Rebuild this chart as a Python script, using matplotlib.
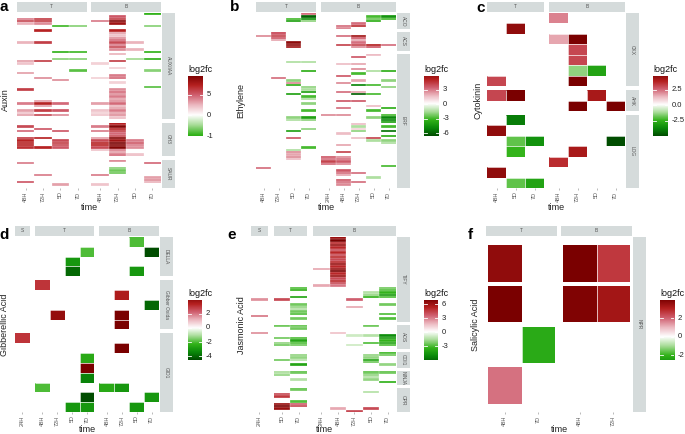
import numpy as np
import matplotlib
matplotlib.use('Agg')
import matplotlib.pyplot as plt
from matplotlib.colors import LinearSegmentedColormap, Normalize

plt.rcParams['font.family'] = ['Liberation Sans', 'DejaVu Sans']

W, H = 685, 434
N = None

# ---------------- panel a : Auxin ----------------
A_COL_GROUPS = ['T', 'B']
A_COL_LABELS = [['48H', '72H', '5D', '7D'], ['48H', '72H', '5D', '7D']]
A_ROW_GROUPS = ['AUX/IAA', 'GH3', 'SAUR']
A_AUX = [
    [N, N, N, N, N, N, N, -4.8],
    [N, N, N, N, N, 5, N, N],
    [4, 6, N, N, N, 6, N, N],
    [5.5, 6, N, N, 4, 9, N, N],
    [2.5, 3.5, N, N, N, 8, N, N],
    [N, N, -4.5, -3, N, N, N, -3],
    [N, N, N, N, N, N, N, N],
    [N, 7, N, N, N, 7, N, N],
    [N, N, N, N, N, 3, N, N],
    [N, N, N, N, N, 2, N, N],
    [N, N, N, N, N, 3.5, N, N],
    [N, N, N, N, N, 4.5, N, N],
    [2.5, 6, N, N, N, 5.5, 2.5, N],
    [N, N, N, N, N, 4, N, N],
    [N, N, N, N, N, 5.5, N, N],
    [N, N, N, N, N, 3.5, 2.5, N],
    [N, N, -4.8, -4.5, N, N, N, -4.8],
    [N, N, N, N, N, 2.5, N, N],
    [N, N, N, N, N, N, N, N],
    [N, N, -3, -3, N, N, -2.5, -5],
    [3, 6, N, N, N, 6, N, N],
    [2, N, N, N, 1.5, N, N, N],
    [N, N, N, N, N, N, N, N],
    [N, N, N, N, N, 1.5, N, N],
    [N, N, N, -4, N, N, N, -3],
    [3, N, N, N, N, N, N, N],
    [N, N, N, N, N, 4, N, N],
    [N, 3.5, N, N, 1.5, 4.5, N, N],
    [N, N, 3.5, N, N, N, N, N],
    [N, N, N, N, N, 1.5, N, N],
    [N, N, N, N, N, N, N, N],
    [N, N, N, N, N, N, N, -4],
    [6, N, N, N, N, 3.5, N, N],
    [N, N, N, N, N, 4.5, N, N],
    [N, N, N, N, N, 3.5, N, N],
    [N, N, N, N, N, 4, N, N],
    [N, N, N, N, N, 3, N, N],
    [N, 3, N, N, N, 3.5, N, N],
    [4, 7, 4.5, N, 3, 4.5, N, N],
    [N, 3, N, N, N, 2.5, N, N],
    [N, N, N, N, N, 3, N, N],
    [3, 6, 5, N, 2, 4, N, N],
    [2, N, N, N, 1.5, 3, N, N],
    [3, 5.5, 3.5, N, 2, 3.5, N, N],
    [N, N, N, N, N, 2, N, N],
]
A_GH3 = [
    [N, N, N, N, N, 7, N, N],
    [5.5, N, N, N, 4, 9, N, N],
    [N, 5, N, N, N, 7, N, N],
    [4.5, N, 5, N, 4, 6, N, N],
    [N, N, N, N, N, 4.5, N, N],
    [N, N, N, N, N, 5.5, N, N],
    [6, 7, N, N, 3, 9, N, N],
    [7, N, 5.5, N, 5.5, 8, 4, N],
    [7, N, 6, N, 7, 10, 5, N],
    [7, N, 5.5, N, 7, 9, 4, N],
    [6.5, 7, 5, N, 5.5, 9, 3.5, N],
    [N, N, N, N, 2, 4, N, N],
    [N, N, N, N, N, 3, N, N],
    [N, N, N, N, N, 4, 2, N],
]
A_SAUR = [
    [N, N, N, N, N, 3.5, N, N],
    [4, N, N, N, N, N, N, 4.5],
    [N, N, N, N, N, N, N, N],
    [N, N, N, N, N, -3, N, N],
    [N, N, N, N, N, -3.5, N, N],
    [N, N, N, N, N, -3.5, N, N],
    [N, 4, N, N, 4, N, N, N],
    [N, N, N, N, N, N, N, 3],
    [N, N, N, N, N, N, N, 3.5],
    [5, N, N, N, N, N, N, 2.5],
    [N, N, 3, N, 2, N, N, N],
    [N, N, N, N, N, N, N, N],
]

# ---------------- panel b : Ethylene ----------------
B_COL_GROUPS = ['T', 'B']
B_COL_LABELS = [['48H', '72H', '5D', '7D'], ['24H', '48H', '72H', '5D', '7D']]
B_ROW_GROUPS = ['ACO', 'ACS', 'ERF']
B_ACO = [
    [N, N, N, 3, N, N, N, N, N],
    [N, N, N, -6, N, N, N, -3, -4.5],
    [N, N, -3, -4.5, N, N, N, -2.5, -3],
    [N, N, -4, -2, N, N, N, -3.5, N],
    [N, N, N, N, N, N, 3, N, N],
    [N, N, N, N, N, 3, 4.5, N, N],
    [N, N, N, N, N, 2.5, N, N, N],
]
B_ACS = [
    [N, 3.5, N, N, N, N, N, N, N],
    [2.5, 4, N, N, N, 3, 5.5, N, N],
    [N, 3.5, N, N, N, N, 3.5, N, N],
    [N, 2, N, N, N, N, 2, N, N],
    [N, N, 6, N, N, N, 3, N, N],
    [N, N, 6, N, N, 4, 4, 5, 3],
    [N, N, 5.5, N, N, N, 2.5, 3.5, N],
    [N, N, N, N, N, N, N, N, N],
]
B_ERF = [
    [N, N, N, N, N, N, N, 1.5, N],
    [N, N, N, N, N, N, 3.5, N, N],
    [N, N, N, N, N, N, N, N, N],
    [N, N, -1.5, -1.5, N, N, N, N, N],
    [N, N, N, N, N, 1.5, 2, N, N],
    [N, N, N, N, N, N, N, N, N],
    [N, N, N, N, N, N, 2.5, N, N],
    [N, N, N, -3.5, N, N, N, -1.5, -3.5],
    [N, N, N, N, N, N, -3, N, N],
    [N, N, N, N, N, 3.5, N, N, N],
    [N, 3, N, N, N, N, N, N, N],
    [N, N, -2, N, N, N, 2, N, -2],
    [N, N, 2.5, N, N, 2.5, N, N, N],
    [N, N, -3.5, N, N, N, -5, -3, N],
    [N, N, N, -2, N, N, N, N, -2],
    [N, N, N, -1.5, N, N, N, N, N],
    [N, N, N, -4, N, 3, 2, N, N],
    [N, N, -4, N, N, N, -6, -3, N],
    [N, N, N, -3, N, N, N, N, N],
    [N, N, N, -1.5, N, N, N, N, N],
    [N, N, N, N, N, 3.5, 3.5, N, N],
    [N, N, N, -2, N, N, N, N, N],
    [N, N, N, N, N, N, N, 1.5, N],
    [N, N, N, N, N, 3, N, N, -3.5],
    [N, N, N, -3, N, N, N, -3, N],
    [N, N, N, N, N, N, N, N, N],
    [N, N, N, N, 2.5, 2.5, N, N, -3],
    [N, N, -2, -4, N, N, N, -2, -5],
    [N, N, -1.5, -2, N, N, N, N, -5],
    [N, N, N, N, N, N, N, N, -4],
    [N, N, N, N, N, N, 1.5, N, N],
    [N, N, N, N, N, N, -1.5, N, -3],
    [N, N, N, -2, N, N, 1, N, N],
    [N, N, -4, N, N, N, -2, N, -5.5],
    [N, N, N, N, N, 1.5, N, N, N],
    [N, N, N, N, N, N, N, N, -3.5],
    [N, N, 3.5, N, N, N, 1.5, 4, N],
    [N, N, N, N, N, N, N, -1.5, -2],
    [N, N, N, N, N, N, N, N, -1.5],
    [N, N, N, N, N, 2, N, N, N],
    [N, N, N, -3, N, N, N, N, N],
    [N, N, -1.5, N, N, N, N, N, N],
    [N, N, 2.5, N, N, 4, N, N, N],
    [N, N, 2, N, N, N, N, N, N],
    [N, N, 2.5, N, 3.5, 2.5, N, N, N],
    [N, N, 1.5, N, 3, 3, N, N, N],
    [N, N, N, N, 4, 3.5, N, N, N],
    [N, N, N, N, 3, 2.5, N, N, N],
    [N, N, N, N, N, N, N, N, -3],
    [3, N, N, N, N, N, N, N, N],
    [N, N, N, N, N, 3.5, N, N, N],
    [N, N, N, N, N, 3, 3, N, N],
    [N, N, N, N, N, 2, N, N, N],
    [N, N, N, N, N, N, N, -1.5, N],
    [N, N, N, N, N, 3.5, N, N, N],
    [N, N, N, N, N, 3, 3, N, N],
    [N, N, N, N, N, 2.5, N, N, N],
    [N, N, N, N, N, N, N, N, N],
]

# ---------------- panel c : Cytokinin ----------------
C_COL_GROUPS = ['T', 'B']
C_COL_LABELS = [['48H', '5D', '7D'], ['48H', '72H', '5D', '7D']]
C_ROW_GROUPS = ['CKX', 'AHK', 'LOG']
C_CKX = [
    [N, N, N, 2, N, N, N],
    [N, 4.5, N, N, N, N, N],
    [N, N, N, 1.5, 5, N, N],
    [N, N, N, N, 3, N, N],
    [N, N, N, N, 3, N, N],
    [N, N, N, N, -1.5, -3, N],
    [3, N, N, N, 5, N, N],
]
C_AHK = [
    [3, 5.5, N, N, N, 4, N],
    [N, N, N, N, 5, N, 5],
]
C_LOG = [
    [N, -4, N, N, N, N, N],
    [4.5, N, N, N, N, N, N],
    [N, -2, -3.5, N, N, N, -5],
    [N, -2.5, N, N, 4, N, N],
    [N, N, N, 3.5, N, N, N],
    [4.5, N, N, N, N, N, N],
    [N, -2, -3, N, N, N, N],
]

# ---------------- panel d : Gibberellic Acid ----------------
D_COL_GROUPS = ['S', 'T', 'B']
D_COL_LABELS = [['24H'], ['48H', '72H', '5D', '7D'], ['48H', '72H', '5D', '7D']]
D_ROW_GROUPS = ['DELLA', 'Gibber Oxida', 'GID1']
D_DELLA = [
    [N, N, N, N, N, N, N, -2, N],
    [N, N, N, N, -2, N, N, N, -4.5],
    [N, N, N, -3, N, N, N, N, N],
    [N, N, N, -4, N, N, N, -3, N],
]
D_GIBOX = [
    [N, 3, N, N, N, N, N, N, N],
    [N, N, N, N, N, N, 3.5, N, N],
    [N, N, N, N, N, N, N, N, -4],
    [N, N, 4, N, N, N, 4.5, N, N],
    [N, N, N, N, N, N, 4.5, N, N],
]
D_GID = [
    [3, N, N, N, N, N, N, N, N],
    [N, N, N, N, N, N, 4.5, N, N],
    [N, N, N, N, -2.5, N, N, N, N],
    [N, N, N, N, 4.5, N, N, N, N],
    [N, N, N, N, -3.5, N, N, N, N],
    [N, -2, N, N, N, -2.5, -3, N, N],
    [N, N, N, N, -5, N, N, N, -3],
    [N, N, N, -3, -3, N, N, -3, N],
]

# ---------------- panel e : Jasmonic Acid ----------------
E_COL_GROUPS = ['S', 'T', 'B']
E_COL_LABELS = [['24H'], ['5D', '7D'], ['24H', '48H', '72H', '5D', '7D']]
E_ROW_GROUPS = ['TIFY', 'AOS', 'COI1', 'NINJA', 'OPR']
E_TIFY = [
    [N, N, N, N, 6, N, N, N],
    [N, N, N, N, 7, N, N, N],
    [N, N, N, N, 5, N, N, N],
    [N, N, N, N, 6, N, N, N],
    [N, N, N, N, 5, N, N, N],
    [N, N, N, N, 4, N, N, N],
    [N, N, N, N, 5, N, N, N],
    [N, N, N, N, 4, N, N, N],
    [N, N, N, N, 5, N, N, N],
    [N, N, N, N, 4, N, N, N],
    [N, N, N, N, 5, N, N, N],
    [N, N, N, N, 6, N, N, N],
    [N, N, N, N, 5, N, N, N],
    [N, N, N, 2, 6, N, N, N],
    [N, N, N, N, 7, N, N, N],
    [N, N, N, N, 5, N, N, N],
    [N, N, N, N, 6, N, N, N],
    [N, N, N, N, 4, N, N, N],
    [N, N, N, N, 5, N, N, N],
    [N, N, N, N, 4, N, N, N],
    [N, N, N, 2, 3, N, N, N],
    [N, N, -3, N, N, N, N, -2.5],
    [N, N, -3.5, N, N, N, N, -3],
    [N, N, N, N, N, N, -1.5, -3.5],
    [N, N, N, N, N, N, -2, -4.5],
    [N, N, -4, N, N, N, -3.5, -3],
    [2.5, 4, N, N, N, 3.5, N, N],
    [N, N, N, N, N, N, N, N],
    [N, N, -2.5, N, N, N, N, -2.5],
    [N, N, -2, N, N, 2, N, N],
    [N, N, -1.5, N, N, N, N, N],
    [N, N, -2.5, N, N, N, N, N],
    [N, N, -3, N, N, N, N, -3],
    [3, N, N, N, N, N, N, N],
    [N, N, -2.5, N, N, N, N, -3],
    [N, N, N, N, N, N, N, N],
]
E_AOS = [
    [N, -2.5, -2.5, N, N, N, -2.5, N],
    [N, N, -2.5, N, N, N, N, N],
    [N, N, N, N, N, N, N, N],
    [2.5, N, N, N, 1.5, N, N, N],
    [N, N, N, N, N, -1, -1.5, -5],
    [N, -2.5, -3, N, N, N, N, -4.5],
    [N, N, -4, N, N, N, N, -3.5],
    [N, -2, -3, N, N, N, -3, -4],
    [N, -2.5, -2.5, N, N, -1, N, -3],
    [N, N, N, N, N, N, N, N],
]
E_COI = [
    [N, N, N, N, N, N, N, -3],
    [N, N, -2, N, N, N, -2, -2.5],
    [N, N, -2, N, N, N, -2, N],
    [N, -2.5, -1.5, N, N, N, -4, N],
    [N, N, N, N, N, N, -2.5, N],
    [N, N, -4, N, N, N, N, -2],
    [N, N, N, N, N, N, N, N],
]
E_NINJA = [
    [N, -1.5, -2.5, N, N, N, -2.5, -2.5],
    [N, -2, N, N, N, N, -2, N],
    [N, N, N, N, N, N, -1.5, N],
    [N, N, -1.5, N, N, N, -2, N],
    [N, N, N, N, N, N, N, -3.5],
    [N, N, N, N, N, N, N, N],
]
E_OPR = [
    [N, N, -2.5, N, N, N, N, N],
    [N, N, N, N, N, N, -1.5, N],
    [N, 4, N, N, N, N, N, N],
    [N, 4.5, N, N, N, N, N, N],
    [N, N, N, N, N, N, N, N],
    [N, N, -3, N, N, N, N, N],
    [N, 6, 3.5, N, N, N, N, N],
    [N, 7, 4, N, N, N, N, N],
    [N, 6, N, N, 2, N, 4, N],
    [N, N, N, N, N, 4, N, N],
]

# ---------------- panel f : Salicylic Acid ----------------
F_COL_GROUPS = ['T', 'B']
F_COL_LABELS = [['48H', '7D'], ['48H', '72H']]
F_ROW_GROUPS = ['NPR']
F_NPR = [
    [3.6, N, 4.0, 2.6],
    [4.0, N, 3.9, 3.3],
    [N, -2.2, N, N],
    [1.8, N, N, N],
]

CMAP = LinearSegmentedColormap.from_list('l2fc', [
    (0.0, '#004d00'), (0.125, '#0a8a0a'), (0.25, '#33b31a'), (0.375, '#a8dc98'),
    (0.5, '#ffffff'), (0.625, '#ecb8c0'), (0.75, '#d06070'), (0.875, '#b52020'),
    (1.0, '#7a0000')])
STRIP = '#d5dbdb'
fig = plt.figure(figsize=(6.85, 4.34), dpi=100)


def box(x0, y0, x1, y1):
    return [x0 / W, 1 - y1 / H, (x1 - x0) / W, (y1 - y0) / H]


def strip(ax, label, rot=0):
    ax.set_facecolor(STRIP)
    ax.set_xticks([])
    ax.set_yticks([])
    for s in ax.spines.values():
        s.set_visible(False)
    ax.text(0.5, 0.5, label, transform=ax.transAxes, ha='center', va='center',
            fontsize=3.5, color='#555555', rotation=rot)


def draw_panel(hx, hy, col_groups, col_labels, row_groups, blocks, M,
               cgap=5, rgap=4, lw=0.2, row_frac=1.0, padx=0.0, pady=0.0):
    x0, x1 = hx
    y0, y1 = hy
    ncol = sum(len(l) for l in col_labels)
    nrow = sum(len(b) for b in blocks)
    cw = (x1 - x0 - cgap * (len(col_groups) - 1)) / ncol
    rh = (y1 - y0 - rgap * (len(row_groups) - 1)) / nrow
    norm = Normalize(-M, M)
    x = x0
    c0 = 0
    for gi, (g, labs) in enumerate(zip(col_groups, col_labels)):
        nc = len(labs)
        w = cw * nc
        strip(fig.add_axes(box(x, y0 - 11, x + w, y0 - 1)), g)
        y = y0
        for ri, (rg, blk) in enumerate(zip(row_groups, blocks)):
            nr = len(blk)
            h = rh * nr
            ax = fig.add_axes(box(x, y, x + w, y + h))
            arr = np.array([[np.nan if v is None else v for v in row[c0:c0 + nc]]
                            for row in blk], dtype=float)
            if row_frac < 1:
                d = (1 - row_frac) / 2
                for r in range(nr):
                    ax.pcolormesh(np.arange(nc + 1), [r + d, r + 1 - d],
                                  np.ma.masked_invalid(arr[r:r + 1]), cmap=CMAP,
                                  norm=norm, edgecolors='none')
            else:
                ax.pcolormesh(np.arange(nc + 1), np.arange(nr + 1),
                              np.ma.masked_invalid(arr), cmap=CMAP, norm=norm,
                              edgecolors='none', antialiased=False)
            if lw > 0:
                ax.hlines(np.arange(1, nr), 0, nc, color='white', lw=lw)
                ax.vlines(np.arange(1, nc), 0, nr, color='white', lw=lw)
            ax.set_xlim(-padx, nc + padx)
            ax.set_ylim(nr + pady, -pady)
            for s in ax.spines.values():
                s.set_visible(False)
            ax.set_yticks([])
            if ri == len(row_groups) - 1:
                ax.set_xticks(np.arange(nc) + 0.5)
                ax.set_xticklabels(labs, rotation=90, fontsize=4, color='#555555')
                ax.tick_params(axis='x', length=1.5, width=0.4, color='#888888', pad=1)
            else:
                ax.set_xticks([])
            if gi == len(col_groups) - 1:
                strip(fig.add_axes(box(x1 + 1, y, x1 + 14, y + h)), rg, rot=-90)
            y += h + rgap
        x += w + cgap
        c0 += nc


def draw_cbar(x0, y0, x1, y1, vmin, vmax, ticks, labels):
    M = max(abs(vmin), abs(vmax))
    cax = fig.add_axes(box(x0, y0, x1, y1))
    grad = np.linspace(vmax, vmin, 256)[:, None]
    cax.imshow(grad, aspect='auto', cmap=CMAP, norm=Normalize(-M, M),
               extent=[0, 1, vmin, vmax])
    cax.set_xlim(0, 1)
    cax.set_ylim(vmin, vmax)
    cax.axis('off')
    for t, lab in zip(ticks, labels):
        cax.plot([0, 0.2], [t, t], color='white', lw=0.6)
        cax.plot([0.8, 1], [t, t], color='white', lw=0.6)
        cax.text(1.25, t, lab, ha='left', va='center', fontsize=5.5, color='#222222',
                 clip_on=False)
    fig.text(x0 / W, 1 - (y0 - 6) / H, 'log2fc', fontsize=6.5, ha='left', va='center',
             color='#111111')
    return M


def labels(letter, lx, ly, ylab, yx, yy, tx, ty):
    fig.text(lx / W, 1 - ly / H, letter, fontsize=11, fontweight='bold', ha='center',
             va='center')
    fig.text(yx / W, 1 - yy / H, ylab, fontsize=6.5, rotation=90, ha='center',
             va='center', color='#222222')
    fig.text(tx / W, 1 - ty / H, 'time', fontsize=6.5, ha='center', va='center',
             color='#222222')


# a
M = draw_cbar(188, 76, 203, 136, -5.0, 9.5, [5, 0, -5], ['5', '0', '-1'])
draw_panel((17, 161), (13, 188), A_COL_GROUPS, A_COL_LABELS, A_ROW_GROUPS,
           [A_AUX, A_GH3, A_SAUR], M, cgap=5, rgap=4)
labels('a', 4, 7, 'Auxin', 5, 100, 89, 207)

# b
M = draw_cbar(424, 76, 439, 136, -6.6, 5.8, [3, 0, -3, -6], ['3', '0', '-3', '-6'])
draw_panel((256, 396), (13, 188), B_COL_GROUPS, B_COL_LABELS, B_ROW_GROUPS,
           [B_ACO, B_ACS, B_ERF], M, cgap=5, rgap=3)
labels('b', 235, 7, 'Ethylene', 241, 101, 326, 207)

# c
M = draw_cbar(653, 76, 668, 136, -5.0, 4.7, [2.5, 0, -2.5], ['2.5', '0.0', '-2.5'])
draw_panel((487, 625), (13, 188), C_COL_GROUPS, C_COL_LABELS, C_ROW_GROUPS,
           [C_CKX, C_AHK, C_LOG], M, cgap=5, rgap=4, lw=0.5)
labels('c', 481, 8, 'Cytokinin', 478, 100, 556, 207)

# d
M = draw_cbar(188, 300, 202, 360, -4.5, 3.9, [2, 0, -2, -4], ['2', '0', '-2', '-4'])
draw_panel((15, 159), (237, 412), D_COL_GROUPS, D_COL_LABELS, D_ROW_GROUPS,
           [D_DELLA, D_GIBOX, D_GID], M, cgap=5, rgap=4, lw=0.5)
labels('d', 4, 235, 'Gibberellic Acid', 5, 325, 87, 429)

# e
M = draw_cbar(424, 300, 438, 360, -6.0, 6.9, [6, 3, 0, -3], ['6', '3', '0', '-3'])
draw_panel((251, 396), (237, 412), E_COL_GROUPS, E_COL_LABELS, E_ROW_GROUPS,
           [E_TIFY, E_AOS, E_COI, E_NINJA, E_OPR], M, cgap=6, rgap=3)
labels('e', 232, 235, 'Jasmonic Acid', 241, 325, 324, 429)

# f
M = draw_cbar(660, 300, 674, 360, -2.5, 4.0, [2, 0, -2], ['2', '0', '-2'])
draw_panel((486, 632), (237, 412), F_COL_GROUPS, F_COL_LABELS, F_ROW_GROUPS,
           [F_NPR], M, cgap=4, rgap=4, lw=0.5, row_frac=0.9, padx=0.06, pady=0.15)
labels('f', 470, 235, 'Salicylic Acid', 476, 325, 559, 429)

fig.savefig('out.png', dpi=100)
